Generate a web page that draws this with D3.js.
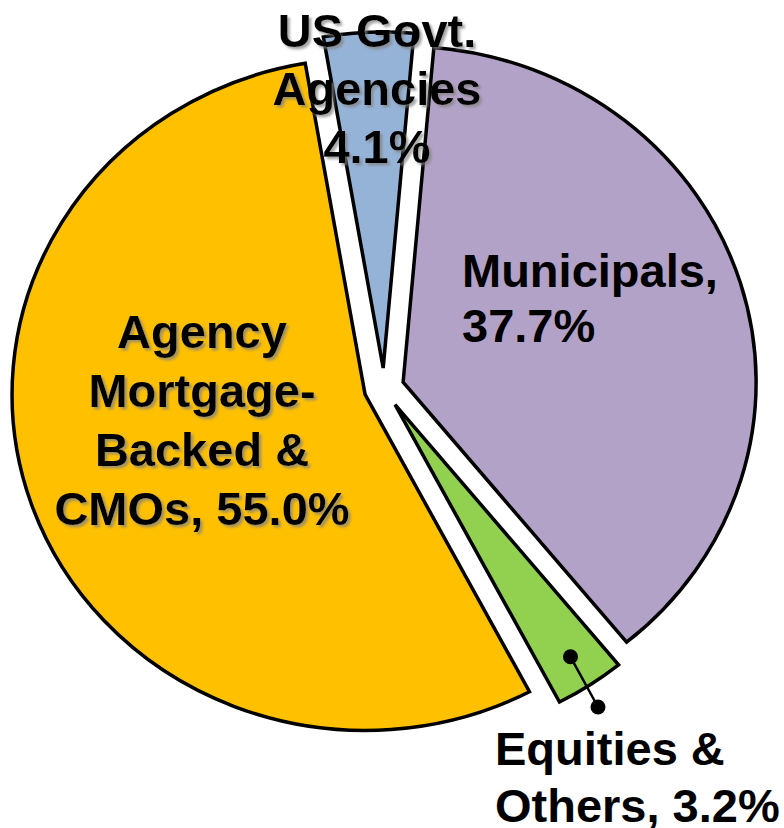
<!DOCTYPE html>
<html>
<head>
<meta charset="utf-8">
<script src="https://cdn.jsdelivr.net/npm/d3@7"></script>
<style>
  html, body { margin: 0; padding: 0; background: #ffffff; }
  svg { display: block; }
  text { font-family: "Liberation Sans", Arial, sans-serif; font-weight: bold; }
</style>
</head>
<body>
<svg id="chart" width="784" height="828"></svg>
<script>
// Portfolio composition, clockwise from just right of 12 o'clock
const categories = ["Municipals", "Equities & Others", "Agency Mortgage-Backed & CMOs", "US Govt. Agencies"];
const values = [37.7, 3.2, 55.0, 4.1];
const colors = ["#B3A2C7", "#92D050", "#FFC000", "#95B3D7"];
const labelLines = [
  ["Municipals,", "37.7%"],
  ["Equities &", "Others, 3.2%"],
  ["Agency", "Mortgage-", "Backed &", "CMOs, 55.0%"],
  ["US Govt.", "Agencies", "4.1%"]
];

// Layout
const cx = 384, cy = 388;          // shared pie centre
const ry = 336, sx = 353 / 336;    // slight horizontal stretch
const explode = 20;
const startDeg = 5;

const labelLayout = [
  { x: 462, y: 287, dy: 55, anchor: "start", shadow: false },
  { x: 495, y: 765, dy: 57, anchor: "start", shadow: false },
  { x: 202, y: 348, dy: 59, anchor: "middle", shadow: true },
  { x: 377, y: 47, dy: 58, anchor: "middle", shadow: true }
];
const leaderEnd = { x: 598, y: 707 };

const svg = d3.select("#chart");

// Soft grey drop shadow used behind some labels
const defs = svg.append("defs");
defs.append("filter").attr("id", "shadow")
  .attr("x", "-10%").attr("y", "-10%").attr("width", "130%").attr("height", "140%")
  .append("feDropShadow")
  .attr("dx", 2.5).attr("dy", 2.5).attr("stdDeviation", 1)
  .attr("flood-color", "#808080").attr("flood-opacity", 0.7);

const pie = d3.pie().sort(null).value(d => d)
  .startAngle(startDeg * Math.PI / 180)
  .endAngle(startDeg * Math.PI / 180 + 2 * Math.PI);
const arcs = pie(values);

const arc = d3.arc().innerRadius(0).outerRadius(ry);

function apex(a) {
  const m = (a.startAngle + a.endAngle) / 2;
  return [cx + explode * Math.sin(m), cy - explode * Math.cos(m)];
}

const slices = svg.append("g").selectAll("g.slice")
  .data(arcs).join("g")
  .attr("class", "slice")
  .attr("transform", d => {
    const [x, y] = apex(d);
    return `translate(${x},${y}) scale(${sx},1)`;
  });

slices.append("path")
  .attr("d", arc)
  .attr("fill", (d, i) => colors[i])
  .attr("stroke", "#000")
  .attr("stroke-width", 3.5)
  .attr("stroke-linejoin", "miter")
  .attr("vector-effect", "non-scaling-stroke");

// Leader for the small equities slice
const eq = arcs[1];
const eqMid = (eq.startAngle + eq.endAngle) / 2;
const [ex, ey] = apex(eq);
const r0 = ry * 0.9;
const p0 = [ex + sx * r0 * Math.sin(eqMid), ey - r0 * Math.cos(eqMid)];
const leader = svg.append("g");
leader.append("line")
  .attr("x1", p0[0]).attr("y1", p0[1])
  .attr("x2", leaderEnd.x).attr("y2", leaderEnd.y)
  .attr("stroke", "#000").attr("stroke-width", 2.5);
leader.selectAll("circle").data([p0, [leaderEnd.x, leaderEnd.y]]).join("circle")
  .attr("cx", d => d[0]).attr("cy", d => d[1]).attr("r", 7.5).attr("fill", "#000");

// Labels
const labels = svg.append("g");
labelLines.forEach((lines, i) => {
  const L = labelLayout[i];
  const g = labels.append("g");
  if (L.shadow) g.attr("filter", "url(#shadow)");
  g.selectAll("text").data(lines).join("text")
    .attr("x", L.x).attr("y", (d, k) => L.y + k * L.dy)
    .attr("text-anchor", L.anchor)
    .attr("font-size", 47)
    .attr("fill", "#000")
    .text(d => d);
});
</script>
</body>
</html>
